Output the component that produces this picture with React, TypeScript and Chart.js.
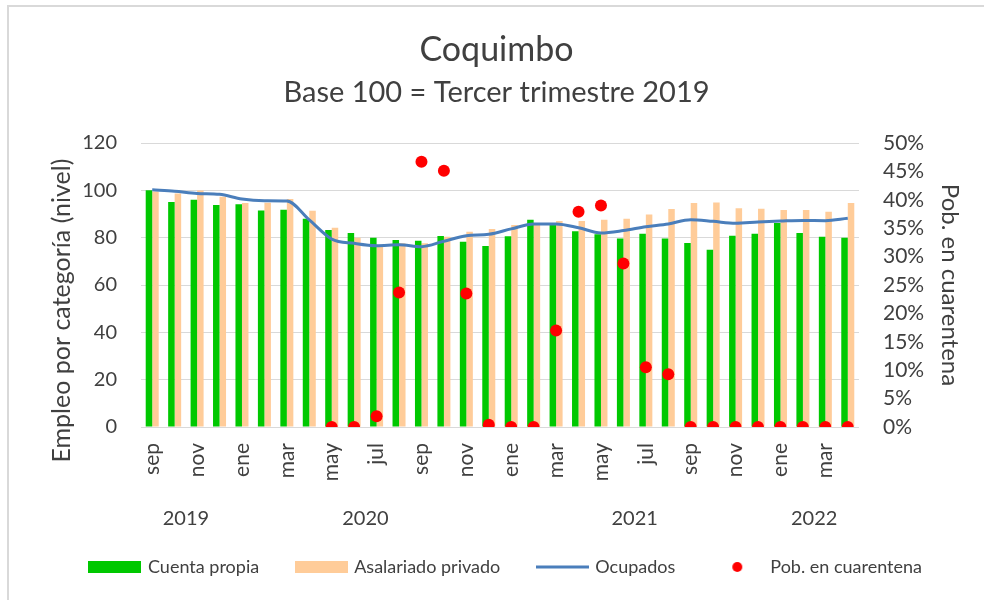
import React, { useEffect, useRef } from 'react';
import { Chart, registerables } from 'chart.js';

Chart.register(...registerables);

const months = [
  'sep', 'oct', 'nov', 'dic',
  'ene', 'feb', 'mar', 'abr', 'may', 'jun', 'jul', 'ago', 'sep', 'oct', 'nov', 'dic',
  'ene', 'feb', 'mar', 'abr', 'may', 'jun', 'jul', 'ago', 'sep', 'oct', 'nov', 'dic',
  'ene', 'feb', 'mar', 'abr',
];
const years = ['2019', '2020', '2021', '2022'];

const cuentaPropia = [
  100, 95.1, 96.0, 93.8,
  94.1, 91.5, 91.8, 88.0, 83.2, 82.0, 80.0, 79.0, 78.7, 80.7, 78.3, 76.5,
  80.6, 87.6, 85.3, 82.7, 81.4, 79.7, 81.7, 79.6, 77.7, 74.9, 80.8, 81.7,
  86.2, 82.0, 80.4, 80.0,
];
const asalariadoPrivado = [
  99.5, 98.7, 99.9, 97.3,
  94.6, 94.8, 96.3, 91.4, 84.2, 80.0, 77.0, 77.6, 77.6, 80.4, 82.5, 83.7,
  85.3, 85.8, 87.0, 87.0, 87.6, 88.0, 89.8, 92.1, 94.6, 94.9, 92.4, 92.2,
  91.7, 91.7, 91.0, 94.6,
];
const ocupados = [
  100.2, 99.6, 98.7, 98.3,
  96.3, 95.6, 95.5, 87.5, 79.4, 77.6, 76.6, 77.0, 76.2, 78.5, 80.8, 81.4,
  83.7, 85.8, 85.8, 84.2, 82.0, 83.0, 84.6, 85.8, 87.6, 86.9, 86.1, 86.6,
  87.0, 87.3, 87.2, 88.2,
];
const cuarentena = [
  null, null, null, null,
  null, null, null, null, 0, 0, 0.019, 0.237, 0.467, 0.451, 0.235, 0.004,
  0, 0, 0.17, 0.379, 0.39, 0.288, 0.105, 0.093, 0, 0, 0, 0,
  0, 0, 0, 0,
];

const seriesNames = ['Cuenta propia', 'Asalariado privado', 'Ocupados', 'Pob. en cuarentena'];
const colors = ['#00c800', '#ffcc99', '#4a7ebb', '#ff0000'];

const FONT = 'Lato, "Open Sans", sans-serif';
const TEXT = '#404040';

function swatch(w: number, h: number, draw: (ctx: CanvasRenderingContext2D) => void) {
  const c = document.createElement('canvas');
  c.width = w;
  c.height = h;
  const ctx = c.getContext('2d')!;
  draw(ctx);
  return c;
}

export default function App() {
  const ref = useRef<HTMLCanvasElement>(null);

  useEffect(() => {
    const groups: { label: string; start: number; end: number }[] = [];
    let yi = 0;
    let start = 0;
    months.forEach((m, i) => {
      if (i > 0 && m === 'ene') {
        groups.push({ label: years[yi], start, end: i - 1 });
        yi++;
        start = i;
      }
    });
    groups.push({ label: years[yi], start, end: months.length - 1 });

    const yearPlugin = {
      id: 'yearLabels',
      afterLayout(chart: any) {
        if (chart.legend) {
          chart.legend.left += 10;
          chart.legend.right += 10;
        }
      },
      afterDraw(chart: any) {
        const xs = chart.scales.x;
        const ctx = chart.ctx as CanvasRenderingContext2D;
        ctx.save();
        ctx.font = `20px ${FONT}`;
        ctx.fillStyle = TEXT;
        ctx.textAlign = 'center';
        ctx.textBaseline = 'middle';
        groups.forEach((g) => {
          const x = (xs.getPixelForValue(g.start) + xs.getPixelForValue(g.end)) / 2;
          ctx.fillText(g.label, x, xs.top + 92);
        });
        ctx.restore();
      },
    };

    const legendStyles = [
      swatch(53, 12, (ctx) => { ctx.fillStyle = colors[0]; ctx.fillRect(0, 0, 53, 12); }),
      swatch(53, 12, (ctx) => { ctx.fillStyle = colors[1]; ctx.fillRect(0, 0, 53, 12); }),
      swatch(53, 4, (ctx) => { ctx.fillStyle = colors[2]; ctx.fillRect(0, 0.5, 53, 3); }),
      swatch(12, 12, (ctx) => { ctx.fillStyle = colors[3]; ctx.beginPath(); ctx.arc(6, 6, 5, 0, Math.PI * 2); ctx.fill(); }),
    ];

    const chart = new Chart(ref.current!, {
      type: 'bar',
      data: {
        labels: months,
        datasets: [
          {
            type: 'bar',
            label: seriesNames[0],
            data: cuentaPropia,
            backgroundColor: colors[0],
            categoryPercentage: 0.58,
            barPercentage: 1,
            yAxisID: 'y',
            order: 3,
          },
          {
            type: 'bar',
            label: seriesNames[1],
            data: asalariadoPrivado,
            backgroundColor: colors[1],
            categoryPercentage: 0.58,
            barPercentage: 1,
            yAxisID: 'y',
            order: 4,
          },
          {
            type: 'line',
            label: seriesNames[2],
            data: ocupados,
            borderColor: colors[2],
            backgroundColor: colors[2],
            borderWidth: 3,
            pointRadius: 0,
            cubicInterpolationMode: 'monotone',
            yAxisID: 'y',
            order: 2,
          },
          {
            type: 'line',
            label: seriesNames[3],
            data: cuarentena,
            showLine: false,
            pointRadius: 6,
            pointBorderWidth: 0,
            pointBackgroundColor: colors[3],
            backgroundColor: colors[3],
            borderColor: colors[3],
            yAxisID: 'y1',
            order: 1,
          },
        ] as any,
      },
      options: {
        responsive: false,
        animation: false,
        layout: { padding: { top: 0, left: 0, right: 0, bottom: 14 } },
        plugins: {
          tooltip: { enabled: false },
          title: {
            display: true,
            text: 'Coquimbo',
            color: TEXT,
            font: { family: FONT, size: 34, weight: 'normal' },
            padding: { top: 22.6, bottom: 5 },
          },
          subtitle: {
            display: true,
            text: 'Base 100 = Tercer trimestre 2019',
            color: TEXT,
            font: { family: FONT, size: 29, weight: 'normal' },
            padding: { top: 0.2, bottom: 32.6 },
          },
          legend: {
            position: 'bottom',
            labels: {
              usePointStyle: true,
              pointStyleWidth: 48,
              boxHeight: 16,
              padding: 38,
              color: TEXT,
              font: { family: FONT, size: 18 },
              generateLabels: () =>
                seriesNames.map((name, i) => ({
                  text: name,
                  pointStyle: legendStyles[i],
                  fillStyle: colors[i],
                  strokeStyle: colors[i],
                  lineWidth: 0,
                  hidden: false,
                  datasetIndex: i,
                  fontColor: TEXT,
                })) as any,
            },
          },
        },
        scales: {
          x: {
            type: 'category',
            position: 'bottom',
            offset: true,
            grid: { display: false },
            border: { display: false },
            ticks: {
              autoSkip: false,
              maxRotation: 90,
              minRotation: 90,
              padding: 8,
              color: TEXT,
              font: { family: FONT, size: 21 },
              callback: (_v: any, i: number) => (i % 2 === 0 ? months[i] : ''),
            },
            afterFit: (s: any) => { s.height = 93; },
          },
          y: {
            type: 'linear',
            position: 'left',
            min: 0,
            max: 120,
            grid: { color: '#d9d9d9', lineWidth: 1, drawTicks: false },
            border: { display: false },
            ticks: {
              stepSize: 20,
              autoSkip: false,
              padding: 24,
              color: TEXT,
              font: { family: FONT, size: 20 },
            },
            title: {
              display: true,
              text: 'Empleo por categoría (nivel)        ',
              color: TEXT,
              font: { family: FONT, size: 25, weight: 'normal' },
              padding: { top: 38, bottom: 0 },
            },
            afterFit: (s: any) => { s.width = 132; },
          },
          y1: {
            type: 'linear',
            position: 'right',
            min: 0,
            max: 0.5,
            grid: { drawOnChartArea: false, drawTicks: false },
            border: { display: false },
            ticks: {
              stepSize: 0.05,
              autoSkip: false,
              padding: 24,
              color: TEXT,
              font: { family: FONT, size: 21 },
              callback: (v: any) => Math.round(Number(v) * 100) + '%',
            },
            title: {
              display: true,
              text: 'Pob. en cuarentena',
              color: TEXT,
              font: { family: FONT, size: 24, weight: 'normal' },
              padding: { top: 19.6, bottom: 0 },
            },
            afterFit: (s: any) => { s.width = 125; },
          },
        },
      } as any,
      plugins: [yearPlugin as any],
    });
    return () => chart.destroy();
  }, []);

  return (
    <div
      style={{
        position: 'fixed',
        left: 7,
        top: 5,
        width: 977,
        height: 595,
        borderLeft: '2px solid #d9d9d9',
        borderTop: '2px solid #d9d9d9',
        boxSizing: 'border-box',
        background: '#fff',
      }}
    >
      <canvas ref={ref} width={975} height={593} style={{ display: 'block' }} />
    </div>
  );
}
